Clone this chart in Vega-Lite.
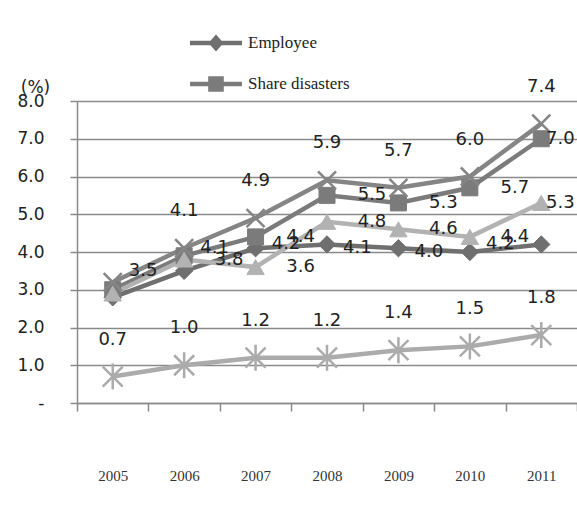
{
  "$schema": "https://vega.github.io/schema/vega-lite/v6.json",
  "width": 500,
  "height": 302,
  "autosize": {"type": "none"},
  "padding": {"left": 77, "top": 101, "right": 0, "bottom": 129},
  "background": "white",
  "config": {"view": {"stroke": null}, "font": "DejaVu Sans"},
  "data": {
    "values": [
      {"year": "2005", "series": "Employee", "value": 2.8, "label": ""},
      {"year": "2006", "series": "Employee", "value": 3.5, "label": "3.5"},
      {"year": "2007", "series": "Employee", "value": 4.1, "label": "4.1"},
      {"year": "2008", "series": "Employee", "value": 4.2, "label": "4.2"},
      {"year": "2009", "series": "Employee", "value": 4.1, "label": "4.1"},
      {"year": "2010", "series": "Employee", "value": 4.0, "label": "4.0"},
      {"year": "2011", "series": "Employee", "value": 4.2, "label": "4.2"},
      {"year": "2005", "series": "Share disasters", "value": 3.0, "label": ""},
      {"year": "2006", "series": "Share disasters", "value": 3.9, "label": ""},
      {"year": "2007", "series": "Share disasters", "value": 4.4, "label": "4.4"},
      {"year": "2008", "series": "Share disasters", "value": 5.5, "label": "5.5"},
      {"year": "2009", "series": "Share disasters", "value": 5.3, "label": "5.3"},
      {"year": "2010", "series": "Share disasters", "value": 5.7, "label": "5.7"},
      {"year": "2011", "series": "Share disasters", "value": 7.0, "label": "7.0"},
      {"year": "2005", "series": "Series 3", "value": 2.9, "label": ""},
      {"year": "2006", "series": "Series 3", "value": 3.8, "label": "3.8"},
      {"year": "2007", "series": "Series 3", "value": 3.6, "label": "3.6"},
      {"year": "2008", "series": "Series 3", "value": 4.8, "label": "4.8"},
      {"year": "2009", "series": "Series 3", "value": 4.6, "label": "4.6"},
      {"year": "2010", "series": "Series 3", "value": 4.4, "label": "4.4"},
      {"year": "2011", "series": "Series 3", "value": 5.3, "label": "5.3"},
      {"year": "2005", "series": "Series 4", "value": 3.2, "label": ""},
      {"year": "2006", "series": "Series 4", "value": 4.1, "label": "4.1"},
      {"year": "2007", "series": "Series 4", "value": 4.9, "label": "4.9"},
      {"year": "2008", "series": "Series 4", "value": 5.9, "label": "5.9"},
      {"year": "2009", "series": "Series 4", "value": 5.7, "label": "5.7"},
      {"year": "2010", "series": "Series 4", "value": 6.0, "label": "6.0"},
      {"year": "2011", "series": "Series 4", "value": 7.4, "label": "7.4"},
      {"year": "2005", "series": "Series 5", "value": 0.7, "label": "0.7"},
      {"year": "2006", "series": "Series 5", "value": 1.0, "label": "1.0"},
      {"year": "2007", "series": "Series 5", "value": 1.2, "label": "1.2"},
      {"year": "2008", "series": "Series 5", "value": 1.2, "label": "1.2"},
      {"year": "2009", "series": "Series 5", "value": 1.4, "label": "1.4"},
      {"year": "2010", "series": "Series 5", "value": 1.5, "label": "1.5"},
      {"year": "2011", "series": "Series 5", "value": 1.8, "label": "1.8"}
    ]
  },
  "encoding": {
    "x": {
      "field": "year",
      "type": "ordinal",
      "scale": {"type": "band", "paddingInner": 0, "paddingOuter": 0},
      "axis": {
        "title": null,
        "labelAngle": 0,
        "tickBand": "extent",
        "tickSize": 8,
        "tickColor": "#8a8a8a",
        "tickWidth": 1.5,
        "domainColor": "#8a8a8a",
        "domainWidth": 1.5,
        "labelPadding": 57,
        "labelFont": "Liberation Serif",
        "labelFontSize": 15,
        "labelColor": "#333333",
        "grid": false
      }
    },
    "y": {
      "field": "value",
      "type": "quantitative",
      "scale": {"domain": [0, 8], "nice": false},
      "axis": {
        "values": [0, 1, 2, 3, 4, 5, 6, 7, 8],
        "labelExpr": "datum.value == 0 ? '-' : format(datum.value, '.1f')",
        "grid": true,
        "gridColor": "#8a8a8a",
        "gridWidth": 1.5,
        "domainColor": "#8a8a8a",
        "domainWidth": 1.5,
        "tickSize": 7,
        "tickColor": "#8a8a8a",
        "tickWidth": 1.5,
        "labelFont": "DejaVu Sans",
        "labelFontSize": 17,
        "labelColor": "#222222",
        "labelPadding": 26,
        "title": "(%)",
        "titleAngle": 0,
        "titleX": -42,
        "titleY": -14,
        "titleAlign": "center",
        "titleBaseline": "middle",
        "titleFontWeight": "normal",
        "titleFont": "DejaVu Sans",
        "titleFontSize": 17,
        "titleColor": "#222222"
      }
    }
  },
  "layer": [
    {
      "mark": {"type": "line", "strokeWidth": 4.5},
      "encoding": {
        "color": {
          "field": "series",
          "type": "nominal",
          "scale": {
            "domain": ["Employee", "Share disasters", "Series 3", "Series 4", "Series 5"],
            "range": ["#6f6f6f", "#7b7b7b", "#b2b2b2", "#858585", "#ababab"]
          },
          "legend": {
            "orient": "none",
            "legendX": 113,
            "legendY": -84,
            "values": ["Employee", "Share disasters"],
            "title": null,
            "padding": 0,
            "symbolSize": 2704,
            "symbolStrokeWidth": 0,
            "symbolType": "M-1,-0.09H1V0.09H-1Z",
            "labelFont": "Liberation Serif",
            "labelFontSize": 17,
            "labelColor": "#222222",
            "labelOffset": 6,
            "rowPadding": 6,
            "encode": {
              "symbols": {
                "update": {
                  "shape": {"signal": "datum.value === 'Employee' ? 'M-1,-0.09H1V0.09H-1Z M0,-0.33L0.29,0L0,0.33L-0.29,0Z' : 'M-1,-0.09H1V0.09H-1Z M-0.3,-0.3H0.3V0.3H-0.3Z'"},
                  "fill": {"signal": "scale('color', datum.value)"},
                  "strokeWidth": {"value": 0},
                  "opacity": {"value": 1},
                  "fillOpacity": {"value": 1}
                }
              }
            }
          }
        }
      }
    },
    {
      "transform": [{"filter": "datum.series === 'Employee'"}],
      "mark": {"type": "point", "filled": true, "opacity": 1, "shape": "diamond", "size": 300, "strokeWidth": 1},
      "encoding": {
        "fill": {"field": "series", "type": "nominal", "scale": {"domain": ["Employee", "Share disasters", "Series 3", "Series 4", "Series 5"], "range": ["#6f6f6f", "#7b7b7b", "#b2b2b2", "#858585", "#ababab"]}, "legend": null},
        "stroke": {"field": "series", "type": "nominal", "scale": {"domain": ["Employee", "Share disasters", "Series 3", "Series 4", "Series 5"], "range": ["#6f6f6f", "#7b7b7b", "#b2b2b2", "#858585", "#ababab"]}, "legend": null}
      }
    },
    {
      "transform": [{"filter": "datum.series === 'Share disasters'"}],
      "mark": {"type": "point", "filled": true, "opacity": 1, "shape": "square", "size": 256, "strokeWidth": 1},
      "encoding": {
        "fill": {"field": "series", "type": "nominal", "legend": null},
        "stroke": {"field": "series", "type": "nominal", "legend": null}
      }
    },
    {
      "transform": [{"filter": "datum.series === 'Series 3'"}],
      "mark": {"type": "point", "filled": true, "opacity": 1, "shape": "triangle-up", "size": 300, "strokeWidth": 1},
      "encoding": {
        "fill": {"field": "series", "type": "nominal", "legend": null},
        "stroke": {"field": "series", "type": "nominal", "legend": null}
      }
    },
    {
      "transform": [{"filter": "datum.series === 'Series 4'"}],
      "mark": {"type": "point", "filled": true, "opacity": 1, "shape": "M-1,-1L1,1M-1,1L1,-1", "size": 324, "strokeWidth": 2.5},
      "encoding": {
        "fill": {"field": "series", "type": "nominal", "legend": null},
        "stroke": {"field": "series", "type": "nominal", "legend": null}
      }
    },
    {
      "transform": [{"filter": "datum.series === 'Series 5'"}],
      "mark": {"type": "point", "filled": true, "opacity": 1, "shape": "M-1,-1L1,1M-1,1L1,-1M0,-1.3L0,1.3", "size": 400, "strokeWidth": 2.5},
      "encoding": {
        "fill": {"field": "series", "type": "nominal", "legend": null},
        "stroke": {"field": "series", "type": "nominal", "legend": null}
      }
    },
    {
      "transform": [{"filter": "(datum.series === 'Series 4' || datum.series === 'Series 5') && datum.label !== ''"}],
      "mark": {"type": "text", "dy": -37, "align": "center", "baseline": "middle", "font": "DejaVu Sans", "fontSize": 18, "color": "#222222"},
      "encoding": {"text": {"field": "label"}}
    },
    {
      "transform": [{"filter": "(datum.series === 'Share disasters' || datum.series === 'Series 3') && datum.label !== '' && datum.year !== '2011'"}],
      "mark": {"type": "text", "dx": 45, "align": "center", "baseline": "middle", "font": "DejaVu Sans", "fontSize": 18, "color": "#222222"},
      "encoding": {"text": {"field": "label"}}
    },
    {
      "transform": [{"filter": "(datum.series === 'Share disasters' || datum.series === 'Series 3') && datum.label !== '' && datum.year === '2011'"}],
      "mark": {"type": "text", "dx": 19, "align": "center", "baseline": "middle", "font": "DejaVu Sans", "fontSize": 18, "color": "#222222"},
      "encoding": {"text": {"field": "label"}}
    },
    {
      "transform": [{"filter": "datum.series === 'Employee' && datum.label !== ''"}],
      "mark": {"type": "text", "dx": -41, "align": "center", "baseline": "middle", "font": "DejaVu Sans", "fontSize": 18, "color": "#222222"},
      "encoding": {"text": {"field": "label"}}
    }
  ]
}
